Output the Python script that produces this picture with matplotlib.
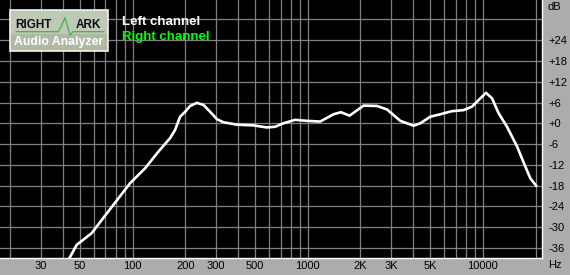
import numpy as np
import matplotlib
matplotlib.use("Agg")
import matplotlib.pyplot as plt
from matplotlib.patches import Rectangle

# ---- data ----
freq_hz = [41.2, 48.0, 58.5, 66.7, 77.6, 96.8, 117.8, 140.4, 163.7, 174.9,
           186.8, 199.5, 213, 232.8, 254, 277.5, 303, 330, 394, 490,
           584, 652, 727, 848, 990, 1178, 1404, 1548, 1734, 2084,
           2485, 2835, 3380, 4027, 4396, 5012, 5715, 6666, 7766, 8668,
           9681, 10430, 11290, 12310, 13740, 15680, 17490, 18680, 20220]
level_db = [-41.2, -35.1, -31.7, -27.9, -23.6, -17.3, -13.0, -8.2, -4.3, -1.9,
            1.9, 3.3, 5.0, 5.9, 5.3, 3.3, 1.2, 0.3, -0.4, -0.6,
            -1.2, -1.0, 0.0, 1.0, 0.7, 0.5, 2.6, 3.2, 2.2, 5.1,
            5.0, 4.0, 0.7, -0.7, 0.0, 1.9, 2.6, 3.5, 3.8, 4.8,
            7.2, 8.8, 7.2, 2.9, -1.0, -6.7, -12.5, -15.9, -18.1]

xtick_pos = [30, 50, 100, 200, 300, 500, 1000, 2000, 3000, 5000, 10000]
xtick_lab = ["30", "50", "100", "200", "300", "500", "1000", "2K", "3K", "5K", "10000"]
xgrid = [20, 30, 40, 50, 60, 70, 80, 90,
         100, 200, 300, 400, 500, 600, 700, 800, 900,
         1000, 2000, 3000, 4000, 5000, 6000, 7000, 8000, 9000,
         10000, 20000]
ytick_pos = [24, 18, 12, 6, 0, -6, -12, -18, -24, -30, -36]
ytick_lab = ["+24", "+18", "+12", "+6", "+0", "-6", "-12", "-18", "-24", "-30", "-36"]
ygrid = [30, 24, 18, 12, 6, 0, -6, -12, -18, -24, -30, -36]

# ---- figure ----
W, H = 570, 275
fig = plt.figure(figsize=(W / 100, H / 100), dpi=100, facecolor="#acacac")
ax = fig.add_axes([0, 17 / H, 542 / W, 258 / H])
ax.set_facecolor("black")

ax.set_xscale("log")
ax.set_xlim(17.5, 21770)
ax.set_ylim(-38.9, 35.6)

ax.set_xticks(xtick_pos)
ax.set_xticklabels(xtick_lab)
ax.set_xticks(xgrid, minor=True)
ax.set_yticks(ytick_pos)
ax.set_yticklabels(ytick_lab)
ax.set_yticks(ygrid, minor=True)
# keep minor grid lines that sit on major ticks
ax.xaxis.remove_overlapping_locs = False
ax.yaxis.remove_overlapping_locs = False
ax.yaxis.tick_right()
ax.tick_params(which="both", length=0)
ax.tick_params(axis="x", which="minor", labelbottom=False)
ax.tick_params(axis="x", which="major", pad=2.5, labelsize=8)
ax.tick_params(axis="y", which="major", pad=4.5, labelsize=8)
for lab in ax.get_xticklabels() + ax.get_yticklabels():
    lab.set_fontfamily("Liberation Sans")
ax.grid(False, which="major")
ax.grid(True, which="minor", color="#808080", linewidth=0.9)

for s in ["top", "left"]:
    ax.spines[s].set_visible(False)
for s in ["right", "bottom"]:
    ax.spines[s].set_color("white")
    ax.spines[s].set_linewidth(1.0)

ax.plot(freq_hz, level_db, color="white", linewidth=1.9,
        solid_joinstyle="round", solid_capstyle="round")

# axis units
fig.text(548 / W, 1 - 7 / H, "dB", fontsize=8, family="Liberation Sans", va="center", ha="left")
fig.text(548 / W, 1 - 265 / H, "Hz", fontsize=8, family="Liberation Sans", va="center", ha="left")

# legend texts
ax.text(122 / 542, 1 - 22 / 258, "Left channel", transform=ax.transAxes, color="white",
        fontsize=9.5, fontweight="bold", family="Liberation Sans", va="center", ha="left")
ax.text(122 / 542, 1 - 37 / 258, "Right channel", transform=ax.transAxes, color="#00ff00",
        fontsize=9.5, fontweight="bold", family="Liberation Sans", va="center", ha="left")

# logo box
def px(x, y):
    return x / 542, 1 - y / 258

lx, ly = px(9.5, 51)
ax.add_patch(Rectangle((lx, ly), 98 / 542, 41.5 / 258, transform=ax.transAxes,
                       facecolor="#c0c8b8", edgecolor="#f0f0f0", linewidth=1.2, zorder=5))
ax.add_patch(Rectangle(px(10.5, 50), 96 / 542, 16 / 258, transform=ax.transAxes,
                       facecolor="#b0b8a6", edgecolor="none", zorder=5))
# green trace through the logo
wx = [16, 58, 61, 65, 70, 73, 104]
wy = [31.7, 31.7, 27, 17.5, 35, 31.7, 31.7]
ax.plot([px(a, b)[0] for a, b in zip(wx, wy)], [px(a, b)[1] for a, b in zip(wx, wy)],
        transform=ax.transAxes, color="#3cb83c", linewidth=0.9, zorder=6)
ax.text(*px(15.5, 25), "RIGHT", transform=ax.transAxes, color="#101010", fontsize=8.5,
        fontweight="bold", family="Liberation Sans", va="center", ha="left", zorder=7)
ax.text(*px(75.5, 25), "ARK", transform=ax.transAxes, color="#101010", fontsize=8.5,
        fontweight="bold", family="Liberation Sans", va="center", ha="left", zorder=7)
ax.text(*px(58.5, 41.5), "Audio Analyzer", transform=ax.transAxes, color="white", fontsize=8.8,
        fontweight="bold", family="Liberation Sans", va="center", ha="center", zorder=7)

fig.savefig("out.png", dpi=100, facecolor=fig.get_facecolor())
